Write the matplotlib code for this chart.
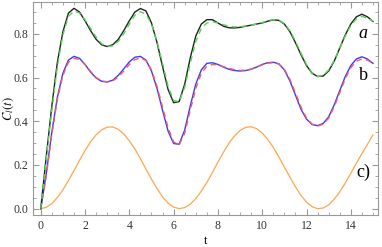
import numpy as np
import matplotlib
matplotlib.use("Agg")
import matplotlib.pyplot as plt
from matplotlib.ticker import MultipleLocator

plt.rcParams['font.family'] = ['Liberation Serif', 'DejaVu Serif']
plt.rcParams['mathtext.fontset'] = 'stix'

# time grid (step 0.25)
t = np.arange(0, 15.01, 0.25)

# curve a: exact (black) and approximation (green dashed)
a_exact = [0.0, 0.24, 0.47, 0.67, 0.81, 0.895, 0.917, 0.9, 0.86, 0.815, 0.775, 0.75,
           0.742, 0.75, 0.775, 0.815, 0.86, 0.9, 0.916, 0.905, 0.85, 0.76, 0.65, 0.545,
           0.485, 0.49, 0.57, 0.69, 0.79, 0.845, 0.865, 0.865, 0.85, 0.835, 0.828, 0.827,
           0.83, 0.835, 0.84, 0.845, 0.85, 0.858, 0.864, 0.862, 0.845, 0.81, 0.76, 0.705,
           0.655, 0.62, 0.605, 0.607, 0.63, 0.675, 0.735, 0.795, 0.845, 0.878, 0.89, 0.878,
           0.857]
a_approx = [0.0, 0.23, 0.45, 0.65, 0.795, 0.88, 0.905, 0.895, 0.865, 0.825, 0.785, 0.755,
            0.742, 0.745, 0.765, 0.8, 0.845, 0.885, 0.902, 0.89, 0.845, 0.765, 0.665, 0.56,
            0.495, 0.49, 0.555, 0.665, 0.765, 0.825, 0.85, 0.855, 0.85, 0.842, 0.835, 0.832,
            0.833, 0.836, 0.84, 0.845, 0.852, 0.86, 0.865, 0.862, 0.847, 0.815, 0.767, 0.712,
            0.66, 0.622, 0.605, 0.61, 0.635, 0.678, 0.735, 0.79, 0.838, 0.868, 0.88, 0.872,
            0.858]

# curve b: exact (blue) and approximation (red dashed)
b_exact = [0.0, 0.16, 0.35, 0.51, 0.62, 0.68, 0.697, 0.688, 0.66, 0.625, 0.598, 0.583,
           0.58, 0.588, 0.61, 0.64, 0.672, 0.693, 0.697, 0.68, 0.63, 0.55, 0.45, 0.355,
           0.298, 0.295, 0.36, 0.47, 0.57, 0.635, 0.665, 0.668, 0.66, 0.648, 0.638, 0.632,
           0.63, 0.632, 0.638, 0.648, 0.66, 0.668, 0.67, 0.663, 0.635, 0.585, 0.52, 0.455,
           0.41, 0.385, 0.38, 0.39, 0.42, 0.475, 0.54, 0.605, 0.655, 0.685, 0.695, 0.685,
           0.665]
b_approx = [0.0, 0.15, 0.34, 0.5, 0.61, 0.67, 0.688, 0.683, 0.66, 0.628, 0.6, 0.585,
            0.58, 0.585, 0.602, 0.63, 0.66, 0.682, 0.69, 0.678, 0.635, 0.56, 0.465, 0.37,
            0.305, 0.292, 0.345, 0.45, 0.55, 0.62, 0.652, 0.66, 0.658, 0.65, 0.642, 0.636,
            0.633, 0.634, 0.639, 0.648, 0.658, 0.666, 0.668, 0.662, 0.638, 0.592, 0.53, 0.465,
            0.415, 0.387, 0.378, 0.386, 0.414, 0.466, 0.53, 0.595, 0.645, 0.675, 0.685, 0.68,
            0.665]

# curve c (orange)
c_vals = [0.0, 0.006, 0.023, 0.051, 0.086, 0.128, 0.174, 0.221, 0.266, 0.306, 0.338, 0.361,
          0.373, 0.374, 0.363, 0.342, 0.31, 0.273, 0.229, 0.181, 0.135, 0.092, 0.054, 0.025,
          0.007, 0.0, 0.005, 0.02, 0.046, 0.08, 0.12, 0.165, 0.213, 0.258, 0.3, 0.333,
          0.358, 0.372, 0.375, 0.366, 0.346, 0.317, 0.28, 0.237, 0.19, 0.145, 0.1, 0.061,
          0.03, 0.009, 0.0, 0.003, 0.017, 0.043, 0.077, 0.117, 0.162, 0.208, 0.252, 0.294,
          0.338]

fig = plt.figure(figsize=(3.82, 2.47), dpi=100)
ax = fig.add_axes([0.0864, 0.1296, 0.9021, 0.8624])

ax.plot(t, c_vals, color='#ffa64d', lw=0.9)
ax.plot(t, b_exact, color='#3a3aff', lw=1.0)
ax.plot(t, b_approx, color='#ff5a5a', lw=1.0, ls=(0, (4, 3)))
ax.plot(t, a_exact, color='#222222', lw=1.0)
ax.plot(t, a_approx, color='#4ddd4d', lw=1.0, ls=(0, (4, 3)))

ax.set_xlim(-0.35, 15.21)
ax.set_ylim(-0.029, 0.946)
ax.xaxis.set_major_locator(MultipleLocator(2))
ax.xaxis.set_minor_locator(MultipleLocator(0.5))
ax.yaxis.set_major_locator(MultipleLocator(0.2))
ax.yaxis.set_minor_locator(MultipleLocator(0.05))
ax.tick_params(which='both', direction='in', top=True, right=True,
               color='#999999', labelsize=8.5, labelcolor='#333333')
ax.tick_params(which='major', length=4)
ax.tick_params(which='minor', length=2)
ax.set_yticks([0.0, 0.2, 0.4, 0.6, 0.8])
ax.set_yticklabels(['0.0', '0.2', '0.4', '0.6', '0.8'])
for s in ax.spines.values():
    s.set_color('#999999')

ax.set_xlabel('t', fontsize=9)
ax.set_ylabel('$C_l(t)$', fontsize=9)
ax.xaxis.set_label_coords(0.5, -0.095)
ax.yaxis.set_label_coords(-0.048, 0.5)

ax.text(14.55, 0.80, 'a', fontsize=13, style='italic', ha='center', va='center')
ax.text(14.55, 0.61, 'b', fontsize=13, ha='center', va='center')
ax.text(14.55, 0.168, 'c)', fontsize=13, ha='center', va='center')

fig.savefig('out.png', dpi=100)
